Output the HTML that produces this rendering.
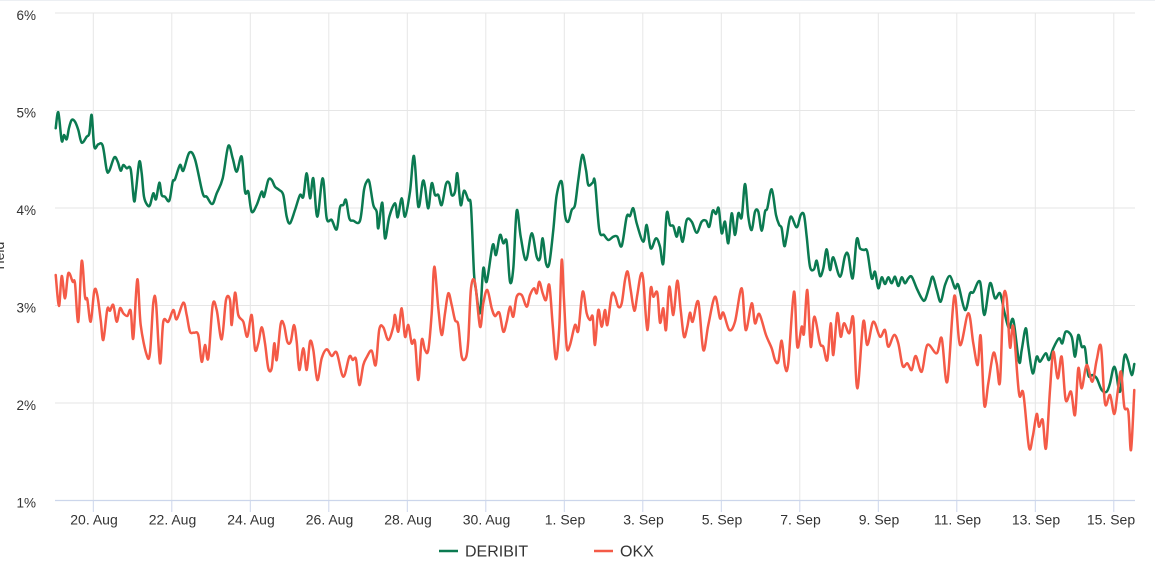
<!DOCTYPE html>
<html>
<head>
<meta charset="utf-8">
<style>
html,body{margin:0;padding:0;background:#fff;}
svg{display:block;}
text{font-family:"Liberation Sans",Arial,sans-serif;}
</style>
</head>
<body>
<svg id="chart" width="1155" height="573" viewBox="0 0 1155 573" xmlns="http://www.w3.org/2000/svg">
<rect x="0" y="0" width="1155" height="573" fill="#ffffff"/>
<line x1="0" y1="0.5" x2="1155" y2="0.5" stroke="#eceff3" stroke-width="1"/>
<g stroke="#e6e6e6" stroke-width="1">
<line x1="55" y1="13" x2="1135" y2="13"/>
<line x1="55" y1="110.5" x2="1135" y2="110.5"/>
<line x1="55" y1="208" x2="1135" y2="208"/>
<line x1="55" y1="305.5" x2="1135" y2="305.5"/>
<line x1="55" y1="403" x2="1135" y2="403"/>
</g>
<g stroke="#e6e6e6" stroke-width="1">
<line x1="93.3" y1="13" x2="93.3" y2="500"/>
<line x1="171.8" y1="13" x2="171.8" y2="500"/>
<line x1="250.3" y1="13" x2="250.3" y2="500"/>
<line x1="328.8" y1="13" x2="328.8" y2="500"/>
<line x1="407.3" y1="13" x2="407.3" y2="500"/>
<line x1="485.8" y1="13" x2="485.8" y2="500"/>
<line x1="564.3" y1="13" x2="564.3" y2="500"/>
<line x1="642.8" y1="13" x2="642.8" y2="500"/>
<line x1="721.3" y1="13" x2="721.3" y2="500"/>
<line x1="799.8" y1="13" x2="799.8" y2="500"/>
<line x1="878.3" y1="13" x2="878.3" y2="500"/>
<line x1="956.8" y1="13" x2="956.8" y2="500"/>
<line x1="1035.3" y1="13" x2="1035.3" y2="500"/>
<line x1="1113.8" y1="13" x2="1113.8" y2="500"/>
</g>
<line x1="55" y1="500.5" x2="1135" y2="500.5" stroke="#ccd6eb" stroke-width="1.2"/>
<g stroke="#ccd6eb" stroke-width="1">
<line x1="93.3" y1="500" x2="93.3" y2="512"/>
<line x1="171.8" y1="500" x2="171.8" y2="512"/>
<line x1="250.3" y1="500" x2="250.3" y2="512"/>
<line x1="328.8" y1="500" x2="328.8" y2="512"/>
<line x1="407.3" y1="500" x2="407.3" y2="512"/>
<line x1="485.8" y1="500" x2="485.8" y2="512"/>
<line x1="564.3" y1="500" x2="564.3" y2="512"/>
<line x1="642.8" y1="500" x2="642.8" y2="512"/>
<line x1="721.3" y1="500" x2="721.3" y2="512"/>
<line x1="799.8" y1="500" x2="799.8" y2="512"/>
<line x1="878.3" y1="500" x2="878.3" y2="512"/>
<line x1="956.8" y1="500" x2="956.8" y2="512"/>
<line x1="1035.3" y1="500" x2="1035.3" y2="512"/>
<line x1="1113.8" y1="500" x2="1113.8" y2="512"/>
</g>
<g font-size="13.5" fill="#333333" text-anchor="end">
<text x="36" y="20">6%</text>
<text x="36" y="117.5">5%</text>
<text x="36" y="215">4%</text>
<text x="36" y="312.5">3%</text>
<text x="36" y="410">2%</text>
<text x="36" y="507.5">1%</text>
</g>
<text x="4" y="257" font-size="14" fill="#333333" text-anchor="middle" transform="rotate(-90 4 257)">Yield</text>
<g font-size="14" fill="#333333" text-anchor="middle">
<text x="94" y="524.5">20. Aug</text>
<text x="172.5" y="524.5">22. Aug</text>
<text x="251" y="524.5">24. Aug</text>
<text x="329.5" y="524.5">26. Aug</text>
<text x="408" y="524.5">28. Aug</text>
<text x="486.5" y="524.5">30. Aug</text>
<text x="565" y="524.5">1. Sep</text>
<text x="643.5" y="524.5">3. Sep</text>
<text x="722" y="524.5">5. Sep</text>
<text x="800.5" y="524.5">7. Sep</text>
<text x="879" y="524.5">9. Sep</text>
<text x="957.5" y="524.5">11. Sep</text>
<text x="1036" y="524.5">13. Sep</text>
<text x="1111" y="524.5">15. Sep</text>
</g>
<polyline class="series" fill="none" stroke="#0b7a51" stroke-width="2.5" stroke-linejoin="round" stroke-linecap="round" points="55.7,128.3 58.3,112.3 61.7,140.7 64,135 66.7,139.3 69,128 71.7,120 75,121.7 78.3,130 81.7,142.7 86.7,136.7 89.3,133.3 91.7,115 94.3,146.7 98.3,144.3 102.7,145.7 106.7,170 109.3,170.7 114.3,157.3 117.7,161.7 120.7,170.7 123.3,165 126.7,168.3 130.7,169.3 134,200.7 136,190 139.3,161.7 141.7,173.3 144,196.7 147.3,205 150,205 153.3,193.3 156,199.3 159.3,182.7 161.7,195 165,196.7 169.3,200.7 172.7,181.7 175,179.3 180,165 183.3,170.7 189.3,152.7 195,159.3 202.7,193.3 206.7,196.7 212.3,204 216.7,193.3 222.7,178.3 228.3,146 232.7,158.3 236.7,171.7 241.7,156.7 245,191.7 248.3,191.7 251.7,211.7 256.7,205 261.7,191.7 264,196.7 268.3,180 271.7,180 275,186.7 279.3,190 283.3,195 286.7,216.7 290,223.3 295,210 300,195 303.3,196.7 306.7,173.3 310,198.3 313.3,178.3 317.3,216.7 322.7,178.3 326.7,218.3 331.7,220 336.7,229.3 340,207.3 343.3,205 346,200 349.3,218.3 353.3,220.7 360,220.7 364,190 366.7,181.7 369.3,181.7 373.3,205 376.7,211.7 378.3,228.3 382.3,202.7 385,238.3 389.3,216.7 395,203.3 397.7,217.3 401.7,198.3 405,216.7 410,191.7 414,156 418.3,206.7 422.7,181.7 425,186.7 428.3,208.3 431.7,183.3 435,195 438.3,195 441.7,205 446,184 449.3,183.3 451.7,195 455,191.7 457.3,173.3 460.7,205 464,190.7 468.3,200 471,206.7 474,273.3 476,290 480,313 483.3,268.3 486.7,281.7 492.7,245 496,255 500,235 503.3,243.3 506.7,241.7 510,281.7 513.3,268.3 516.7,210.7 520.7,236.7 526,260 531.7,233.3 536.7,256.7 540,258.3 542.7,238.3 546,263.3 549.3,263.3 553.3,230 556.7,195 561.7,181.7 565,215 568.3,221.7 571.7,210 575,205 578.3,180 582.3,155 586,170 588.3,185 592.7,182.7 595,182 599.3,230 604,235 608.3,240 613.3,236.7 617.3,236.7 621.7,246 626.7,216.7 630,216 633.3,208.3 636.7,223.3 643.3,241.7 646.7,225 650.7,248.3 656,238.3 660,246.7 663.3,263.3 666.7,213.3 670,225 673.3,226 676.7,236.7 679.3,227.3 682.7,241.7 686.7,220 691.7,221.7 696.7,232.7 701.7,221.7 706,220.7 709.3,226.7 712.7,210.7 716,214 718.7,208.3 721.7,233.3 725,221.7 728.3,243.3 731.7,213.3 735,235 738.3,213.3 741.7,217.3 745,184 748.3,216.7 751.7,230 755,211.7 758.3,211.7 761.7,230.7 765,211.7 767.3,208.3 771.7,189.3 776,215 779.3,225 781.7,228.3 784.3,246 786.7,236.7 790.7,216.7 796.7,227.3 800.7,215 804,215 806.7,236.7 810,266.7 814,269.3 816.7,260.7 820,276 823.3,268.3 826.7,249.3 830,270 833.3,257.3 840,276.7 845,256 848.3,255 852.7,278.3 856.7,239.3 860,248.3 864,250 867.3,251.7 871.7,278.3 875,271.7 878.3,288.3 881.7,277.3 885,284 888.3,277.3 891.7,283.3 895,276.7 898.3,286 901.7,277.3 905,283.3 908.3,278.3 911.7,276.7 916.7,288.3 921.7,298.3 925,300 929.3,286.7 932.7,276.7 936.7,290 940.7,301.7 945,285 950,276 955,288.3 958.3,285 965,310 970,293.3 973.3,292.3 980,281.7 984.3,315 990,283.3 995,298.3 1000,293.3 1004.3,311.7 1009,328.3 1013.3,320 1019,361.7 1021.7,350 1025.7,328.3 1028.3,346.7 1032.7,373.3 1036.7,356.7 1040,361.7 1045.7,353.3 1049,360 1053.3,348.3 1059,338.3 1062.3,343.3 1065.7,331.7 1071.7,336.7 1075,356.7 1078.3,335 1081.7,346.7 1085,348.3 1088.3,375 1092.3,375 1096.7,378.3 1101.7,390 1106.7,391.7 1110,383.3 1113.3,368.3 1115.7,370 1120,391.7 1124.3,356.7 1127.7,360 1131.7,375 1134.3,364"/>
<polyline class="series" fill="none" stroke="#f45a47" stroke-width="2.5" stroke-linejoin="round" stroke-linecap="round" points="55.7,275 59,306 61.7,276 65,298.3 68.3,273.3 72.7,281.7 75,283.3 78.3,321.7 81.7,261 85,296.7 87.3,299.3 90.7,321.7 94.3,290.7 97.3,295 100.7,320 103.3,340 107.3,309.3 110,310.7 113.3,305 116.7,321.7 120,308.3 123.3,313.3 127.3,316 130.7,310.7 133.3,338.3 137.3,279.3 140.7,325 146.7,355 150,352.7 153.3,302.7 156,302.7 160,363.3 163.3,321.7 168.3,321.7 173.3,310 176.7,319.3 183.3,302.7 186.7,315 190,331.7 194,332.7 198.3,335 201.7,361.7 205,345 208.3,358.3 212.7,305 216.7,310 221.7,339.3 226,300 230,300 231.7,325 235,292.7 238.3,315 243.3,321.7 247.3,336.7 251.7,315 255,349.3 258.3,343.3 261.7,327.3 265,343.3 268.3,368.3 271.7,368.3 274.3,343.3 276.7,360 280.7,324 284,325 287.3,341.7 290.7,341.7 294,325 296.7,341.7 299.3,370 303.3,348.3 306.7,370 310,341.7 313.3,350 317.3,380 321.7,358.3 326.7,349.3 331.7,356 336.7,352.7 343.3,376.7 349.3,356.7 352.7,360 356,359.3 359.3,385 363.3,365 366.7,357.3 371.7,350.7 375.7,365 379.3,329.3 383.3,327.3 388.3,340 393.3,326.7 395,315 398.3,331.7 401.7,308.3 405,336.7 408.3,325 411.7,343.3 415,341.7 418.3,380 421.7,340 425,350 428.3,350 431.7,313.3 434.3,266.7 438.3,308.3 441.7,335 445,313.3 448.3,293.3 451.7,305 455,320 458.3,325 461.7,356.7 466,357.3 468.3,340 471,288.3 475,282.7 480,326.7 483.3,303.3 487.3,290 491.7,308.3 495,316 499.3,312.7 503.3,331.7 506.7,321.7 510,306.7 513.3,316.7 516.7,296.7 521.7,295 526.7,306.7 530,295 534,288.3 536.7,293.3 539.3,281.7 542.7,293.3 546,300 549.3,285 552.7,325 556,359.3 559.3,326.7 561.7,260 564,300 566.7,346.7 570,345 575,325 578.3,330.7 582.7,291.7 586.7,313.3 590,320 592.7,316.7 595,345 598.3,310 601.7,326.7 605,310 607.3,325 611.7,295 615,296 618.3,306.7 621.7,303.3 625,280 627.7,271.7 630.7,290 634.3,310.7 637.3,295 640.7,275 643.3,280 647.3,330 650.7,288.3 653.3,296.7 657.3,292.7 660,322.7 663.3,308.3 666,330 669.3,286.7 673.3,315 677.3,280.7 680.7,310 684,336.7 687.3,326.7 690,312.7 692.7,321.7 698.3,301.7 703.3,350 708.3,325 715,296.7 720,318.3 723.3,312.7 729.3,330 735,321.7 741.7,288.3 745.7,330 751.7,303.3 755,323.3 759.3,314 766,335 771.7,348.3 775,360 778.3,361.7 781.7,340.7 785,366.7 788.3,363.3 794,291.7 797.3,346.7 801.7,326.7 804,333.3 807.3,290 810.7,346.7 814.3,316.7 820,343.3 823.3,346.7 827.3,360 830.7,323.3 833.3,355 837.3,313.3 840.7,336.7 844,323.3 849.3,333.3 853.3,318.3 857.3,388.3 863.3,321.7 867.3,345 873.3,321.7 880,336.7 885,330 888.3,346.7 894,335 898.3,343.3 902.7,366 907.3,363.3 911.7,370 915.7,356 921.7,371.7 927.3,345 936.7,353.3 941.7,338.3 947.3,381.7 954.3,296 960,345 968.3,313.3 973.3,343.3 977.7,365 980.7,336 984.3,405 988.3,383.3 993.3,353.3 996.7,363.3 1000,381.7 1003.3,300 1006.7,298.3 1010,347.3 1013.3,326.7 1019,393.3 1023.3,393.3 1029,447.3 1032.7,436.7 1036.7,414 1039,426.7 1042.7,420 1046,448.3 1050,390 1053.3,351.7 1057.7,378.3 1061.7,356.7 1065.7,400 1071,391.7 1075,415 1078.3,368.3 1081.7,388.3 1086.7,365 1092.3,381.7 1096.7,360 1101,346.7 1105,403.3 1110,395 1114.3,414 1117.7,391.7 1121,371.7 1124.3,406.7 1128.3,411.7 1131,450 1134.3,390"/>
<line x1="439" y1="551" x2="458" y2="551" stroke="#0b7a51" stroke-width="2.6"/>
<text x="465" y="556.5" font-size="16" fill="#333333">DERIBIT</text>
<line x1="594" y1="551" x2="613" y2="551" stroke="#f45a47" stroke-width="2.6"/>
<text x="620" y="556.5" font-size="16" fill="#333333">OKX</text>
</svg>
<script>
(function(){
  var NS="http://www.w3.org/2000/svg";
  var pls=document.querySelectorAll("polyline.series");
  for(var k=0;k<pls.length;k++){
    var pl=pls[k];
    var raw=pl.getAttribute("points").trim().split(/\s+/);
    var p=[];
    for(var i=0;i<raw.length;i++){var a=raw[i].split(",");p.push([+a[0],+a[1]]);}
    var d="M"+p[0][0]+","+p[0][1];
    var t=1/6;
    for(var i=0;i<p.length-1;i++){
      var p0=p[i>0?i-1:0],p1=p[i],p2=p[i+1],p3=p[i+2<p.length?i+2:p.length-1];
      var c1x=p1[0]+(p2[0]-p0[0])*t,c1y=p1[1]+(p2[1]-p0[1])*t;
      var c2x=p2[0]-(p3[0]-p1[0])*t,c2y=p2[1]-(p3[1]-p1[1])*t;
      d+=" C"+c1x.toFixed(2)+","+c1y.toFixed(2)+" "+c2x.toFixed(2)+","+c2y.toFixed(2)+" "+p2[0]+","+p2[1];
    }
    var path=document.createElementNS(NS,"path");
    path.setAttribute("d",d);
    path.setAttribute("fill","none");
    path.setAttribute("stroke",pl.getAttribute("stroke"));
    path.setAttribute("stroke-width",pl.getAttribute("stroke-width"));
    path.setAttribute("stroke-linejoin","round");
    path.setAttribute("stroke-linecap","round");
    pl.parentNode.replaceChild(path,pl);
  }
})();
</script>
</body>
</html>
